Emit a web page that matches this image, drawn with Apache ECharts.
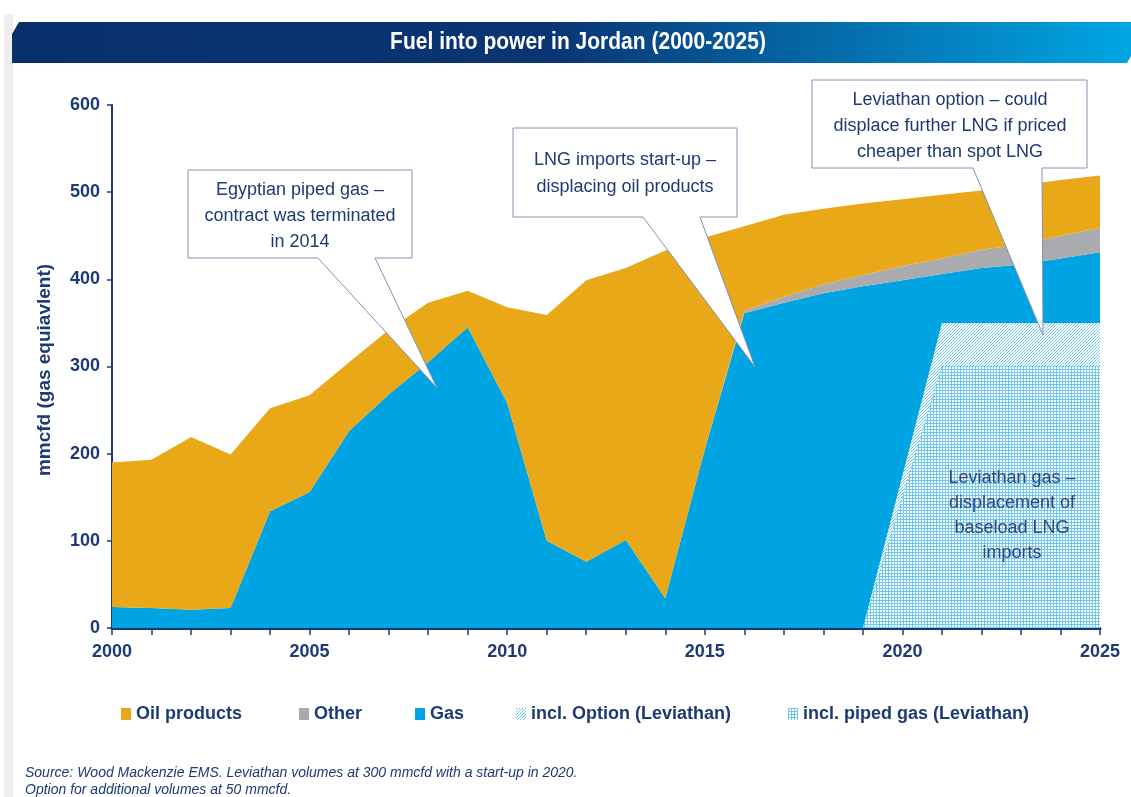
<!DOCTYPE html>
<html>
<head>
<meta charset="utf-8">
<script src="https://cdn.jsdelivr.net/npm/echarts@6/dist/echarts.min.js"></script>
<style>
  html, body { margin: 0; padding: 0; background: #fff; }
  #chart { width: 1131px; height: 797px; }
</style>
</head>
<body>
<div id="chart"></div>
<script>
// values (mmcfd gas equivalent)
const years = ['2000', '2001', '2002', '2003', '2004', '2005', '2006', '2007', '2008', '2009', '2010', '2011', '2012',
  '2013', '2014', '2015', '2016', '2017', '2018', '2019', '2020', '2021', '2022', '2023', '2024', '2025'];
const gas = [24, 23, 21, 23, 134, 156, 226, 268, 305, 345, 258, 100, 76, 101, 34, 205, 361, 373, 384, 392, 399, 406, 413, 417, 424, 431];
const other = [0, 0, 0, 0, 0, 0, 0, 0, 0, 0, 0, 0, 0, 0, 0, 0, 3, 7, 10, 13, 16, 18, 21, 23, 26, 28];
const oilProducts = [166, 170, 198, 176, 118, 111, 79, 74, 68, 42, 110, 259, 323, 312, 399, 243, 97, 94, 87, 82, 77, 73, 68, 68, 64, 60];
// Leviathan overlay (drawn over gas, from 2019)
const pipedGas = ['-', '-', '-', '-', '-', '-', '-', '-', '-', '-', '-', '-', '-', '-', '-', '-', '-', '-', '-', 0, 150, 300, 300, 300, 300, 300];
const optionGas = ['-', '-', '-', '-', '-', '-', '-', '-', '-', '-', '-', '-', '-', '-', '-', '-', '-', '-', '-', 0, 25, 50, 50, 50, 50, 50];

const NAVY = '#1d3a74';
const SANS = "'Liberation Sans', Arial, sans-serif";

function makePattern(kind) {
  const c = document.createElement('canvas');
  c.width = 3;
  c.height = 3;
  const ctx = c.getContext('2d');
  ctx.fillStyle = '#ffffff';
  ctx.fillRect(0, 0, 3, 3);
  ctx.fillStyle = '#6fc8f0';
  for (let x = 0; x < 3; x++) {
    for (let y = 0; y < 3; y++) {
      if (kind === 'dots' && (x === 0 || y === 0)) ctx.fillRect(x, y, 1, 1);
      if (kind === 'diag' && (x + y) % 3 === 0) ctx.fillRect(x, y, 1, 1);
    }
  }
  return { image: c, repeat: 'repeat' };
}
const dotsPattern = makePattern('dots');
const diagPattern = makePattern('diag');

function areaSeries(name, data, color, stack, z) {
  return {
    name: name,
    type: 'line',
    stack: stack,
    data: data,
    showSymbol: false,
    silent: true,
    z: z,
    lineStyle: { width: 0 },
    itemStyle: { color: color },
    areaStyle: { color: color, opacity: 1 },
  };
}

function legendAt(left, name, color) {
  return {
    left: left,
    top: 700,
    icon: 'rect',
    itemWidth: 10,
    itemHeight: 12,
    data: [{ name: name, itemStyle: { color: color } }],
    textStyle: { fontFamily: SANS, fontSize: 18, fontWeight: 'bold', color: NAVY },
    selectedMode: false,
  };
}

function callout(points, lines, cx, firstY, lineH) {
  const els = [{
    type: 'polygon',
    shape: { points: points },
    style: { fill: '#ffffff', stroke: '#8690b4', lineWidth: 1 },
    z: 100,
  }];
  lines.forEach((t, i) => {
    els.push({
      type: 'text',
      x: cx,
      y: firstY + i * lineH,
      z: 101,
      style: { text: t, fill: NAVY, font: '18px ' + SANS, align: 'center', verticalAlign: 'middle' },
    });
  });
  return els;
}

const chart = echarts.init(document.getElementById('chart'));

const option = {
  animation: false,
  backgroundColor: '#ffffff',
  grid: { left: 112, right: 31, top: 105, bottom: 169 },
  legend: [
    legendAt(116, 'Oil products', '#e8a817'),
    legendAt(294, 'Other', '#a9abae'),
    legendAt(410, 'Gas', '#00a4e2'),
    legendAt(511, 'incl. Option (Leviathan)', diagPattern),
    legendAt(783, 'incl. piped gas (Leviathan)', dotsPattern),
  ],
  xAxis: {
    type: 'category',
    data: years,
    boundaryGap: false,
    axisLine: { lineStyle: { color: '#143a7c', width: 3 } },
    axisTick: { show: true, interval: 0, length: 7, lineStyle: { color: NAVY, width: 1.5 } },
    axisLabel: { interval: 4, margin: 15, color: NAVY, fontFamily: SANS, fontSize: 18, fontWeight: 'bold' },
    splitLine: { show: false },
  },
  yAxis: {
    type: 'value',
    min: 0,
    max: 600,
    interval: 100,
    axisLine: { show: true, lineStyle: { color: NAVY, width: 2 } },
    axisTick: { show: true, length: 5, lineStyle: { color: NAVY, width: 1.5 } },
    axisLabel: { margin: 12, color: NAVY, fontFamily: SANS, fontSize: 18, fontWeight: 'bold' },
    splitLine: { show: false },
  },
  series: [
    areaSeries('Gas', gas, '#00a4e2', 'total', 2),
    areaSeries('Other', other, '#a9abae', 'total', 2),
    areaSeries('Oil products', oilProducts, '#e8a817', 'total', 2),
    areaSeries('incl. piped gas (Leviathan)', pipedGas, dotsPattern, 'lev', 5),
    areaSeries('incl. Option (Leviathan)', optionGas, diagPattern, 'lev', 5),
  ],
  graphic: [
    // grey strip on the left edge
    { type: 'rect', shape: { x: 4, y: 14, width: 9, height: 783 }, style: { fill: '#eeeeee' }, z: 0 },
    // title banner
    {
      type: 'polygon',
      shape: { points: [[19, 22], [1131, 22], [1131, 56], [1127, 63], [12, 63], [12, 34]] },
      style: {
        fill: new echarts.graphic.LinearGradient(0, 0, 1, 0, [
          { offset: 0, color: '#0a2f6d' },
          { offset: 0.48, color: '#0a3473' },
          { offset: 1, color: '#00a6e3' },
        ]),
      },
      z: 10,
    },
    {
      type: 'text',
      x: 578,
      y: 43,
      scaleY: 1.12,
      z: 11,
      style: { text: 'Fuel into power in Jordan (2000-2025)', fill: '#ffffff', font: 'bold 21px ' + SANS, align: 'center', verticalAlign: 'middle' },
    },
    // y-axis name
    {
      type: 'text',
      x: 45,
      y: 370,
      rotation: Math.PI / 2,
      z: 11,
      style: { text: 'mmcfd (gas equiavlent)', fill: NAVY, font: 'bold 19px ' + SANS, align: 'center', verticalAlign: 'middle' },
    },
    ...callout([[188, 170], [412, 170], [412, 258], [375, 258], [437, 388], [318, 258], [188, 258]],
      ['Egyptian piped gas \u2013', 'contract was terminated', 'in 2014'], 300, 190, 26),
    ...callout([[513, 128], [737, 128], [737, 217], [700, 217], [755, 367], [643, 217], [513, 217]],
      ['LNG imports start-up \u2013', 'displacing oil products'], 625, 160, 27),
    ...callout([[812, 80], [1087, 80], [1087, 168], [1042, 168], [1043, 335], [973, 168], [812, 168]],
      ['Leviathan option \u2013 could', 'displace further LNG if priced', 'cheaper than spot LNG'], 950, 100, 26),
    // label inside the Leviathan area
    {
      type: 'text',
      x: 1012,
      y: 466,
      z: 20,
      style: {
        text: 'Leviathan gas \u2013\ndisplacement of\nbaseload LNG\nimports',
        fill: '#34457a', font: '18px ' + SANS, align: 'center', verticalAlign: 'top', lineHeight: 25,
      },
    },
    // source note
    {
      type: 'text',
      x: 25,
      y: 765,
      z: 11,
      style: {
        text: 'Source: Wood Mackenzie EMS. Leviathan volumes at 300 mmcfd with a start-up in 2020.\nOption for additional volumes at 50 mmcfd.',
        fill: NAVY, font: 'italic 14px ' + SANS, verticalAlign: 'top', lineHeight: 17,
      },
    },
  ],
};

chart.setOption(option);
</script>
</body>
</html>
